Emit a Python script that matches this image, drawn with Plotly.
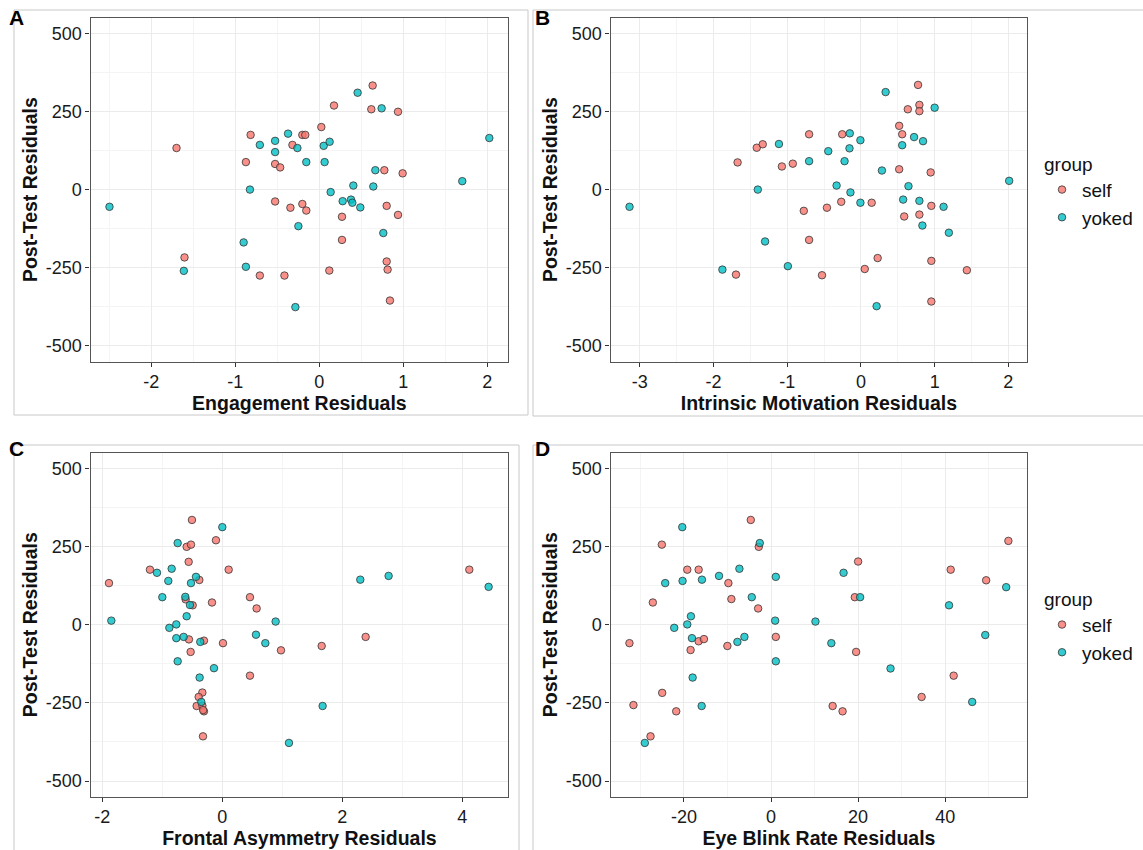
import plotly.graph_objects as go

# ---- Panel A: Engagement residuals ----
eng_self_x = [-1.70, -1.605, -0.818, -0.874, -0.526, -0.466, -0.526, -0.708, -0.415, -0.320,
              -0.344, -0.202, -0.167, -0.202, -0.155, 0.024, 0.175, 0.119, 0.270, 0.270,
              0.635, 0.619, 0.937, 0.774, 0.992, 0.802, 0.937, 0.802, 0.813, 0.841]
eng_self_y = [133, -217, 175, 88, 82, 71, -38, -275, -275, 143,
              -58, 175, 175, -46, -67, 200, 269, -259, -87, -161,
              333, 257, 249, 62, 52, -52, -81, -230, -256, -355]
eng_yoked_x = [-2.498, -1.613, -0.901, -0.874, -0.826, -0.708, -0.526, -0.526, -0.372, -0.261,
               -0.249, -0.285, -0.155, 0.063, 0.052, 0.123, 0.135, 0.278, 0.377, 0.393,
               0.405, 0.488, 0.456, 0.667, 0.643, 0.742, 0.762, 1.702, 2.024]
eng_yoked_y = [-55, -260, -169, -247, 0, 143, 156, 120, 179, 133,
               -117, -376, 88, 88, 140, 153, -8, -37, -32, -42,
               13, -57, 310, 62, 10, 260, -139, 27, 165]

# ---- Panel B: Intrinsic motivation residuals ----
im_self_x = [-1.695, -1.673, -1.413, -1.332, -1.072, -0.924, -0.703, -0.775, -0.703, -0.528,
             -0.461, -0.254, -0.267, 0.146, 0.227, 0.052, 0.775, 0.793, 0.793, 0.636,
             0.519, 0.560, 0.519, 0.946, 0.955, 0.587, 0.793, 0.955, 0.955, 1.437]
im_self_y = [-272, 87, 134, 145, 74, 83, 177, -68, -161, -274,
             -58, 177, -39, -42, -219, -254, 335, 271, 251, 257,
             204, 177, 65, 55, -52, -86, -80, -228, -358, -258]
im_yoked_x = [-3.139, -1.879, -1.399, -1.300, -1.112, -0.991, -0.703, -0.443, -0.151, -0.155,
              -0.222, -0.330, -0.142, -0.007, -0.007, 0.335, 0.285, 0.213, 1.000, 0.560,
              0.721, 0.843, 0.645, 0.573, 0.793, 1.121, 0.834, 1.193, 2.011]
im_yoked_y = [-55, -256, 0, -166, 146, -245, 91, 123, 180, 132,
              91, 13, -9, 158, -42, 312, 61, -373, 262, 142,
              168, 155, 11, -32, -36, -55, -115, -138, 28]

# ---- Panel C: Frontal asymmetry residuals ----
fa_self_x = [-0.506, -0.106, -0.594, -0.522, -0.561, -1.206, 0.106, -1.889, -0.383, -0.611,
             -0.494, -0.172, -0.556, -0.306, 0.011, -0.528, -0.333, -0.394, -0.428, -0.333,
             -0.306, -0.322, 0.461, 0.572, 0.461, 0.978, 1.656, 2.389, 4.117, -0.320]
fa_self_y = [335, 270, 249, 256, 201, 176, 176, 133, 143, 81,
             62, 71, -47, -51, -59, -87, -217, -231, -260, -259,
             -277, -357, 88, 52, -163, -82, -68, -39, 176, -273]
fa_yoked_x = [0.000, -0.744, -1.089, -0.844, -0.900, -0.439, -0.522, -1.000, -0.617, -0.539,
              -0.594, -1.850, -0.883, -0.767, -0.767, -0.644, -0.367, -0.744, -0.139, -0.378,
              -0.350, 0.561, 0.889, 0.717, 1.672, 1.111, 2.300, 2.772, 4.439]
fa_yoked_y = [312, 261, 166, 179, 140, 153, 133, 88, 89, 63,
              27, 13, -10, 1, -43, -39, -55, -117, -139, -169,
              -247, -32, 10, -59, -260, -378, 144, 156, 121]

# ---- Panel D: Eye blink rate residuals ----
ebr_self_x = [-4.65, -25.07, -2.81, -19.23, -16.62, -9.79, -27.14, -9.10, -2.96, -16.62,
              -15.40, -32.51, -18.47, -10.02, -24.99, -31.59, -21.77, -27.67, 1.10, 14.15,
              16.43, 20.00, 19.24, 19.54, 34.58, 41.26, 41.94, 49.40, 54.50]
ebr_self_y = [335, 256, 249, 176, 176, 133, 71, 82, 52, -53,
              -46, -59, -81, -68, -218, -257, -277, -357, -39, -260,
              -277, 202, 88, -87, -231, 176, -163, 142, 268]
ebr_yoked_x = [-20.38, -2.58, -7.26, -11.94, -24.30, -20.31, -15.86, -4.42, -18.39, -19.23,
               -22.23, -18.16, -7.72, -6.11, -18.00, -15.93, -28.98, 1.10, 0.95, 1.10,
               10.20, 13.85, 16.66, 20.46, 27.44, 40.88, 49.20, 46.20, 54.00]
ebr_yoked_y = [312, 261, 179, 156, 133, 140, 144, 88, 27, 1,
               -10, -43, -55, -39, -169, -260, -378, 153, 13, -117,
               10, -59, 166, 88, -140, 62, -33, -247, 120]

# ---- Tick positions and labels (plain hyphen minus, as printed) ----
y_ticks = [-500, -250, 0, 250, 500]
y_labels = ["-500", "-250", "0", "250", "500"]
eng_ticks = [-2, -1, 0, 1, 2]
eng_labels = ["-2", "-1", "0", "1", "2"]
im_ticks = [-3, -2, -1, 0, 1, 2]
im_labels = ["-3", "-2", "-1", "0", "1", "2"]
fa_ticks = [-2, 0, 2, 4]
fa_labels = ["-2", "0", "2", "4"]
ebr_ticks = [-20, 0, 20, 40]
ebr_labels = ["-20", "0", "20", "40"]

W, H = 1143, 850
FONT = "Liberation Sans, Arial, sans-serif"
SELF_FILL = "rgba(248,118,109,0.8)"
YOKED_FILL = "rgba(0,191,196,0.8)"


def fx(px):
    return px / W


def fy(py):
    return 1 - py / H


fig = go.Figure()

panels = [
    # (axis suffix, self x, self y, yoked x, yoked y, legend id or None)
    ("", eng_self_x, eng_self_y, eng_yoked_x, eng_yoked_y, None),
    ("2", im_self_x, im_self_y, im_yoked_x, im_yoked_y, "legend"),
    ("3", fa_self_x, fa_self_y, fa_yoked_x, fa_yoked_y, None),
    ("4", ebr_self_x, ebr_self_y, ebr_yoked_x, ebr_yoked_y, "legend2"),
]

for suf, sx, sy, yx, yy, leg in panels:
    for name, xs, ys, fill in (("self", sx, sy, SELF_FILL), ("yoked", yx, yy, YOKED_FILL)):
        fig.add_trace(go.Scatter(
            x=xs, y=ys, mode="markers", name=name,
            xaxis="x" + suf, yaxis="y" + suf,
            marker=dict(size=7.5, color=fill, line=dict(color="#333333", width=0.8)),
            showlegend=leg is not None,
            legend=leg if leg else "legend",
            hoverinfo="x+y",
        ))


def xaxis_cfg(domain_px, rng, ticks, labels, minor, title, anchor):
    return dict(
        domain=[fx(domain_px[0]), fx(domain_px[1])], range=rng, anchor=anchor,
        tickmode="array", tickvals=ticks, ticktext=labels,
        showgrid=True, gridcolor="#EBEBEB", gridwidth=1.1,
        minor=dict(dtick=minor, tick0=0, showgrid=True, gridcolor="#F4F4F4", gridwidth=0.7),
        zeroline=False, showline=True, mirror=True, linecolor="#555555", linewidth=1.3,
        ticks="outside", ticklen=4, tickcolor="#333333", tickwidth=1,
        tickfont=dict(family=FONT, size=18, color="#1a1a1a"),
        title=dict(text="<b>" + title + "</b>", standoff=3,
                   font=dict(family=FONT, size=19.5, color="#111111")),
    )


def yaxis_cfg(domain_py, anchor):
    return dict(
        domain=[fy(domain_py[1]), fy(domain_py[0])], range=[-550, 550], anchor=anchor,
        tickmode="array", tickvals=y_ticks, ticktext=y_labels,
        showgrid=True, gridcolor="#EBEBEB", gridwidth=1.1,
        minor=dict(dtick=125, tick0=0, showgrid=True, gridcolor="#F4F4F4", gridwidth=0.7),
        zeroline=False, showline=True, mirror=True, linecolor="#555555", linewidth=1.3,
        ticks="outside", ticklen=4, tickcolor="#333333", tickwidth=1,
        tickfont=dict(family=FONT, size=18, color="#1a1a1a"),
        title=dict(text="<b>Post-Test Residuals</b>", standoff=2,
                   font=dict(family=FONT, size=19.5, color="#111111")),
    )


LEFT = (90.5, 508.3)
RIGHT = (610.5, 1027.3)
TOP = (17.7, 361.5)
BOTTOM = (452.7, 796.7)

legend_style = dict(
    xanchor="left", yanchor="top",
    title=dict(text="group", font=dict(family=FONT, size=19)),
    font=dict(family=FONT, size=19, color="#111111"),
    bgcolor="rgba(0,0,0,0)", tracegroupgap=0,
)

fig.update_layout(
    width=W, height=H,
    margin=dict(l=0, r=0, t=0, b=0),
    paper_bgcolor="white", plot_bgcolor="white",
    font=dict(family=FONT, color="#111111"),
    xaxis=xaxis_cfg(LEFT, [-2.724, 2.250], eng_ticks, eng_labels, 0.5, "Engagement Residuals", "y"),
    yaxis=yaxis_cfg(TOP, "x"),
    xaxis2=xaxis_cfg(RIGHT, [-3.397, 2.257], im_ticks, im_labels, 0.5,
                     "Intrinsic Motivation Residuals", "y2"),
    yaxis2=yaxis_cfg(TOP, "x2"),
    xaxis3=xaxis_cfg(LEFT, [-2.197, 4.767], fa_ticks, fa_labels, 1,
                     "Frontal Asymmetry Residuals", "y3"),
    yaxis3=yaxis_cfg(BOTTOM, "x3"),
    xaxis4=xaxis_cfg(RIGHT, [-36.86, 58.85], ebr_ticks, ebr_labels, 10,
                     "Eye Blink Rate Residuals", "y4"),
    yaxis4=yaxis_cfg(BOTTOM, "x4"),
    legend=dict(x=fx(1042), y=fy(146), **legend_style),
    legend2=dict(x=fx(1042), y=fy(581), **legend_style),
)

# Light frames around each panel of the assembled figure
FRAME = dict(color="#C8C8C8", width=1)
frames = [
    (14, 10, 528, 10), (14, 10, 14, 415), (14, 415, 528, 415), (528, 10, 528, 415),
    (533, 10, 1143, 10), (533, 10, 533, 416), (533, 416, 1143, 416),
    (14, 445, 519, 445), (14, 445, 14, 850), (519, 445, 519, 850),
    (533, 445, 1143, 445), (533, 445, 533, 850),
]
for x0, y0, x1, y1 in frames:
    fig.add_shape(type="line", xref="paper", yref="paper",
                  x0=fx(x0), y0=fy(y0), x1=fx(x1), y1=fy(y1), line=FRAME, layer="below")

# Panel letters
for letter, px, py in (("A", 16, 17), ("B", 542, 17), ("C", 16, 448), ("D", 542, 448)):
    fig.add_annotation(text="<b>" + letter + "</b>", xref="paper", yref="paper",
                       x=fx(px), y=fy(py), xanchor="center", yanchor="middle",
                       showarrow=False, font=dict(family=FONT, size=21, color="#000000"))

fig.write_html("out.html")
